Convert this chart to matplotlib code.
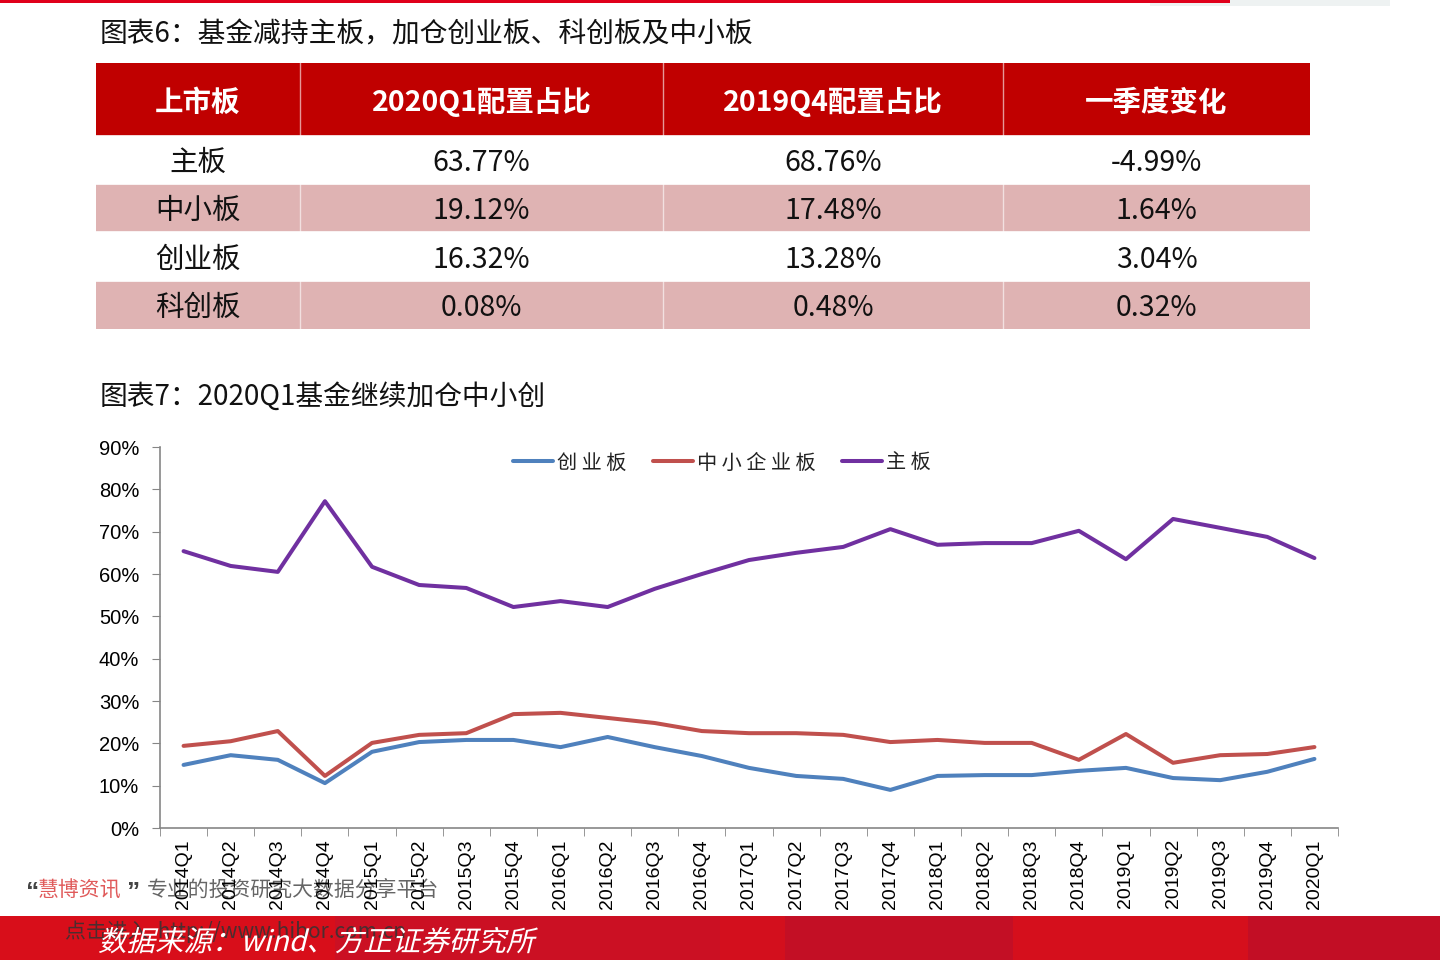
import matplotlib
matplotlib.use("Agg")
import matplotlib.pyplot as plt
from matplotlib.patches import Rectangle, PathPatch
from matplotlib.textpath import TextPath
from matplotlib.font_manager import FontProperties
from matplotlib.transforms import Affine2D
import numpy as np

plt.rcParams['font.family'] = ['Noto Sans CJK SC', 'DejaVu Sans']

# ---------------- data ----------------
table_title = "图表6：基金减持主板，加仓创业板、科创板及中小板"
table_header = ["上市板", "2020Q1配置占比", "2019Q4配置占比", "一季度变化"]
table_boards = ["主板", "中小板", "创业板", "科创板"]
table_2020q1 = ["63.77%", "19.12%", "16.32%", "0.08%"]
table_2019q4 = ["68.76%", "17.48%", "13.28%", "0.48%"]
table_change = ["-4.99%", "1.64%", "3.04%", "0.32%"]

chart_title = "图表7：2020Q1基金继续加仓中小创"
quarters = ["2014Q1", "2014Q2", "2014Q3", "2014Q4", "2015Q1", "2015Q2", "2015Q3", "2015Q4",
            "2016Q1", "2016Q2", "2016Q3", "2016Q4", "2017Q1", "2017Q2", "2017Q3", "2017Q4",
            "2018Q1", "2018Q2", "2018Q3", "2018Q4", "2019Q1", "2019Q2", "2019Q3", "2019Q4",
            "2020Q1"]
chinext = [14.9, 17.2, 16.1, 10.6, 18.0, 20.3, 20.8, 20.8, 19.1, 21.5, 19.1, 17.0, 14.2, 12.3,
           11.6, 9.0, 12.3, 12.5, 12.5, 13.5, 14.2, 11.8, 11.3, 13.28, 16.32]
sme = [19.4, 20.5, 22.9, 12.3, 20.1, 22.0, 22.4, 26.9, 27.2, 26.0, 24.8, 22.9, 22.4, 22.4,
       22.0, 20.3, 20.8, 20.1, 20.1, 16.1, 22.2, 15.4, 17.2, 17.48, 19.12]
mainboard = [65.4, 61.9, 60.5, 77.2, 61.7, 57.4, 56.7, 52.2, 53.6, 52.2, 56.5, 60.0, 63.3, 65.0,
             66.4, 70.6, 66.9, 67.3, 67.3, 70.2, 63.5, 73.0, 70.9, 68.76, 63.77]
series_names = ["创 业 板", "中 小 企 业 板", "主 板"]
y_ticks = [0, 10, 20, 30, 40, 50, 60, 70, 80, 90]
source_text = "数据来源：wind、方正证券研究所"

# ---------------- figure ----------------
W, H = 1440, 960
fig = plt.figure(figsize=(W / 100, H / 100), dpi=100)
fig.patch.set_facecolor("white")

# overlay axes in pixel coords (y downward)
ov = fig.add_axes([0, 0, 1, 1])
ov.set_xlim(0, W)
ov.set_ylim(H, 0)
ov.axis("off")

# top red rule
ov.add_patch(Rectangle((1150, 0), 240, 6, color="#EEF2F2", lw=0, zorder=1))
ov.add_patch(Rectangle((0, 0), 1230, 2.5, color="#E0001B", lw=0, zorder=2))

# table title
ov.text(100, 34, table_title, fontsize=20, va="center", ha="left", color="#111111")

# table
col_edges = [96, 300, 663, 1003, 1310]
row_edges = [63, 136, 184, 232, 281, 329]
ov.add_patch(Rectangle((col_edges[0], row_edges[0]), col_edges[-1] - col_edges[0],
                       row_edges[1] - row_edges[0], color="#C00000", lw=0))
for c in range(4):
    cx = (col_edges[c] + col_edges[c + 1]) / 2
    ov.text(cx, (row_edges[0] + row_edges[1]) / 2 + 3, table_header[c], fontsize=20.5,
            fontweight="bold", color="white", ha="center", va="center")
cols = [table_boards, table_2020q1, table_2019q4, table_change]
for r in range(4):
    y0, y1 = row_edges[r + 1], row_edges[r + 2]
    if r % 2 == 1:
        ov.add_patch(Rectangle((col_edges[0], y0), col_edges[-1] - col_edges[0], y1 - y0,
                               color="#DFB3B3", lw=0))
    for c in range(4):
        cx = (col_edges[c] + col_edges[c + 1]) / 2
        ov.text(cx, (y0 + y1) / 2 + 3, cols[c][r], fontsize=20.5, color="#111111",
                ha="center", va="center")
for xe in col_edges[1:-1]:
    ov.plot([xe, xe], [row_edges[0], row_edges[-1]], color="white", lw=1, alpha=0.6)
for ye in row_edges[1:-1]:
    ov.plot([col_edges[0], col_edges[-1]], [ye, ye], color="white", lw=1.2)

# chart title
ov.text(100, 397, chart_title, fontsize=20, va="center", ha="left", color="#111111")

# ---------------- line chart ----------------
ax_l, ax_r, ax_t, ax_b = 160, 1338, 447, 828
ax = fig.add_axes([ax_l / W, 1 - ax_b / H, (ax_r - ax_l) / W, (ax_b - ax_t) / H])
x = np.arange(len(quarters))
ax.plot(x, chinext, color="#4F81BD", lw=2.9, label=series_names[0], solid_capstyle="round")
ax.plot(x, sme, color="#C0504D", lw=2.9, label=series_names[1], solid_capstyle="round")
ax.plot(x, mainboard, color="#7030A0", lw=2.9, label=series_names[2], solid_capstyle="round")
ax.set_xlim(-0.5, len(quarters) - 0.5)
ax.set_ylim(0, 90)
ax.set_yticks(y_ticks)
ax.set_yticklabels([f"{v}%" for v in y_ticks], fontsize=14.5, family="Liberation Sans")
ax.set_xticks(x)
ax.set_xticklabels(quarters, rotation=90, fontsize=14, family="Liberation Sans")
ax.set_xticks(np.arange(-0.5, len(quarters)), minor=True)
ax.tick_params(axis="x", which="major", length=0, pad=8)
ax.tick_params(axis="x", which="minor", length=6, color="#868686", direction="out")
ax.tick_params(axis="y", length=6, color="#868686", direction="out", pad=9)
for s in ["top", "right"]:
    ax.spines[s].set_visible(False)
for s in ["left", "bottom"]:
    ax.spines[s].set_color("#868686")
    ax.spines[s].set_linewidth(1.2)
ax.patch.set_alpha(0)
leg = ax.legend(loc="center", bbox_to_anchor=((722 - ax_l) / (ax_r - ax_l), 1 - (463 - ax_t) / (ax_b - ax_t)),
                ncol=3, frameon=False, fontsize=14.5, handlelength=2.0, handletextpad=0.2,
                columnspacing=1.3)
for t in leg.get_texts():
    t.set_color("#222222")

# ---------------- bottom band & watermark ----------------
band_x = [0, 335, 720, 785, 1013, 1248, 1440]
band_cols = ["#D80E1A", "#CB1023", "#D30F1D", "#C30F25", "#D50F1C", "#C20E25"]
for i, c in enumerate(band_cols):
    ov.add_patch(Rectangle((band_x[i], 916), band_x[i + 1] - band_x[i], 44, color=c, lw=0, zorder=1))

ov.text(26, 893, "“", fontsize=19, color="#444444", ha="left", va="center", zorder=3,
        family="Liberation Sans", fontweight="bold")
ov.text(38, 891, "慧博资讯", fontsize=15, color="#E05A5A", ha="left", va="center", zorder=3)
ov.text(126, 893, "”", fontsize=19, color="#444444", ha="left", va="center", zorder=3,
        family="Liberation Sans", fontweight="bold")
ov.text(147, 891, "专业的投资研究大数据分享平台", fontsize=15, color="#555555", ha="left",
        va="center", zorder=3, alpha=0.9)
ov.text(65, 932, "点击进入  http://www.hibor.com.cn", fontsize=15, color="#333333", ha="left",
        va="center", zorder=3, alpha=0.85)

# italic source text (skewed path)
fp = FontProperties(family="Noto Sans CJK SC")
tp = TextPath((0, 0), source_text, size=28.5, prop=fp)
tr = Affine2D().skew_deg(14, 0).scale(1, -1).translate(98, 951)
ov.add_patch(PathPatch(tr.transform_path(tp), color="white", lw=0, zorder=4))

fig.savefig("out.png", dpi=100, facecolor="white")
